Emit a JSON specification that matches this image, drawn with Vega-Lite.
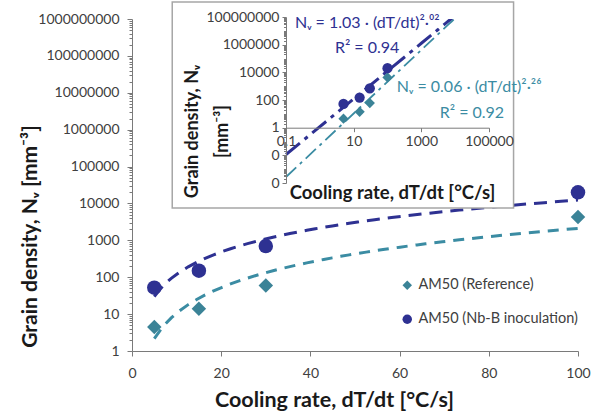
{
 "$schema": "https://vega.github.io/schema/vega-lite/v6.json",
 "width": 446,
 "height": 332,
 "autosize": "none",
 "padding": {"left": 132, "top": 19, "right": 23, "bottom": 65},
 "background": "white",
 "datasets": {
  "pts": [
   {"rate": 5, "density": 4.5, "series": "AM50 (Reference)"},
   {"rate": 15, "density": 14, "series": "AM50 (Reference)"},
   {"rate": 30, "density": 60, "series": "AM50 (Reference)"},
   {"rate": 100, "density": 4300, "series": "AM50 (Reference)"},
   {"rate": 5, "density": 52, "series": "AM50 (Nb-B inoculation)"},
   {"rate": 15, "density": 150, "series": "AM50 (Nb-B inoculation)"},
   {"rate": 30, "density": 700, "series": "AM50 (Nb-B inoculation)"},
   {"rate": 100, "density": 20000, "series": "AM50 (Nb-B inoculation)"}
  ],
  "frame": [{"rate": 4.34e-5, "rate2": 5.32e5, "density": 1.55e-6, "density2": 1.22e9}],
  "notes": [
   {"rate": 0.184, "density": 3.7e7, "series": "AM50 (Nb-B inoculation)", "label": "Nᵥ = 1.03 · (dT/dt)²·⁰²"},
   {"rate": 2.79, "density": 5.8e5, "series": "AM50 (Nb-B inoculation)", "label": "R² = 0.94"},
   {"rate": 188, "density": 870, "series": "AM50 (Reference)", "label": "Nᵥ = 0.06 · (dT/dt)²·²⁶"},
   {"rate": 3490, "density": 11.5, "series": "AM50 (Reference)", "label": "R² = 0.92"}
  ]
 },
 "config": {
  "view": {"stroke": null},
  "font": "Lato",
  "axis": {"grid": false, "labelFont": "Lato", "labelFontSize": 14, "labelColor": "#404040", "titleFont": "Lato", "titleFontWeight": "bold", "titleColor": "#1a1a1a", "domainColor": "#7a7a7a", "tickColor": "#7a7a7a", "labelFlush": false, "labelOverlap": false},
  "legend": {"orient": "none", "legendX": 268, "legendY": 259, "padding": 0, "symbolSize": 90, "labelFont": "Lato", "labelFontSize": 14.5, "labelLimit": 300, "labelColor": "#404040", "rowPadding": 19, "labelOffset": 4, "symbolStrokeWidth": 0}
 },
 "resolve": {"scale": {"x": "independent", "y": "independent"}, "axis": {"x": "independent", "y": "independent"}},
 "layer": [
  {
   "encoding": {
    "x": {"field": "rate", "type": "quantitative", "scale": {"domain": [0, 100], "nice": false, "zero": false},
     "axis": {"orient": "bottom", "values": [0, 20, 40, 60, 80, 100], "tickSize": 5, "labelPadding": 10, "title": "Cooling rate, dT/dt  [°C/s]", "titleFontSize": 21.5, "titleX": 202, "titleY": 49, "titleBaseline": "middle", "titleAlign": "center"}},
    "y": {"field": "density", "type": "quantitative", "scale": {"type": "log", "domain": [1, 1e9], "nice": false},
     "axis": {"orient": "left",
      "values": [1,2,3,4,5,6,7,8,9,10,20,30,40,50,60,70,80,90,100,200,300,400,500,600,700,800,900,1000,2000,3000,4000,5000,6000,7000,8000,9000,1e4,2e4,3e4,4e4,5e4,6e4,7e4,8e4,9e4,1e5,2e5,3e5,4e5,5e5,6e5,7e5,8e5,9e5,1e6,2e6,3e6,4e6,5e6,6e6,7e6,8e6,9e6,1e7,2e7,3e7,4e7,5e7,6e7,7e7,8e7,9e7,1e8,2e8,3e8,4e8,5e8,6e8,7e8,8e8,9e8,1e9],
      "labelExpr": "abs(log(datum.value)/LN10 - round(log(datum.value)/LN10)) < 0.001 ? format(datum.value, 'd') : ''",
      "tickSize": {"condition": {"test": "abs(log(datum.value)/LN10 - round(log(datum.value)/LN10)) < 0.001", "value": 5}, "value": 3},
      "labelPadding": 8,
      "title": "Grain density, Nᵥ  [mm⁻³]", "titleFontSize": 21, "titleX": -102, "titleY": 217, "titleBaseline": "middle", "titleAlign": "center", "titleAngle": 270}}
   },
   "layer": [
    {"data": {"name": "pts"}, "transform": [{"filter": "datum.series === 'AM50 (Reference)'"}, {"regression": "density", "on": "rate", "method": "pow", "extent": [5, 100]}],
     "mark": {"type": "line", "color": "#3B8CA3", "strokeWidth": 3, "strokeDash": [11, 8]}},
    {"data": {"name": "pts"}, "transform": [{"filter": "datum.series === 'AM50 (Nb-B inoculation)'"}, {"regression": "density", "on": "rate", "method": "pow", "extent": [5, 100]}],
     "mark": {"type": "line", "color": "#2E3192", "strokeWidth": 3, "strokeDash": [13, 8]}},
    {"data": {"name": "pts"}, "mark": {"type": "point", "filled": true, "opacity": 1, "size": 210},
     "encoding": {
      "color": {"field": "series", "type": "nominal", "title": null, "scale": {"domain": ["AM50 (Reference)", "AM50 (Nb-B inoculation)"], "range": ["#3B8397", "#2E3192"]}},
      "shape": {"field": "series", "type": "nominal", "title": null, "scale": {"domain": ["AM50 (Reference)", "AM50 (Nb-B inoculation)"], "range": ["diamond", "circle"]}}
     }}
   ]
  },
  {
   "encoding": {
    "x": {"field": "rate", "type": "quantitative", "scale": {"type": "log", "domain": [0.1, 100000], "range": [154, 357], "nice": false},
     "axis": {"orient": "bottom", "offset": -223.3, "zindex": 1, "values": [0.1, 10, 1000, 100000], "format": "~g", "tickSize": 4, "labelPadding": 3, "title": "Cooling rate, dT/dt  [°C/s]", "titleFontSize": 18.5, "titleX": 260, "titleY": 65, "titleBaseline": "middle", "titleAlign": "center"}},
    "y": {"field": "density", "type": "quantitative", "scale": {"type": "log", "domain": [0.0001, 100000000], "range": [164, -2], "nice": false},
     "axis": {"orient": "left", "offset": -154, "zindex": 1,
      "values": [1e-4,2e-4,3e-4,4e-4,5e-4,6e-4,7e-4,8e-4,9e-4,1e-3,2e-3,3e-3,4e-3,5e-3,6e-3,7e-3,8e-3,9e-3,1e-2,2e-2,3e-2,4e-2,5e-2,6e-2,7e-2,8e-2,9e-2,0.1,0.2,0.3,0.4,0.5,0.6,0.7,0.8,0.9,1,2,3,4,5,6,7,8,9,10,20,30,40,50,60,70,80,90,100,200,300,400,500,600,700,800,900,1000,2000,3000,4000,5000,6000,7000,8000,9000,1e4,2e4,3e4,4e4,5e4,6e4,7e4,8e4,9e4,1e5,2e5,3e5,4e5,5e5,6e5,7e5,8e5,9e5,1e6,2e6,3e6,4e6,5e6,6e6,7e6,8e6,9e6,1e7,2e7,3e7,4e7,5e7,6e7,7e7,8e7,9e7,1e8],
      "labelExpr": "abs(log(datum.value)/LN10/2 - round(log(datum.value)/LN10/2)) < 0.001 ? format(datum.value, 'd') : ''",
      "tickSize": {"condition": {"test": "abs(log(datum.value)/LN10/2 - round(log(datum.value)/LN10/2)) < 0.001", "value": 4}, "value": 2.5},
      "labelPadding": 3,
      "title": ["Grain density, Nᵥ", "[mm⁻³]"], "titleFontSize": 18, "titleLineHeight": 30, "titleX": -94, "titleY": 112, "titleBaseline": "middle", "titleAlign": "center", "titleAngle": 270}}
   },
   "layer": [
    {"data": {"name": "frame"}, "mark": {"type": "rect", "fill": "white", "stroke": "#a6a6a6", "strokeWidth": 1.5},
     "encoding": {"x2": {"field": "rate2"}, "y2": {"field": "density2"}}},
    {"data": {"name": "pts"}, "transform": [{"filter": "datum.series === 'AM50 (Reference)'"}, {"regression": "density", "on": "rate", "method": "pow", "extent": [0.1, 100000]}],
     "mark": {"type": "line", "clip": true, "color": "#3B8CA3", "strokeWidth": 1.8, "strokeDash": [14, 5, 3, 5]}},
    {"data": {"name": "pts"}, "transform": [{"filter": "datum.series === 'AM50 (Nb-B inoculation)'"}, {"regression": "density", "on": "rate", "method": "pow", "extent": [0.1, 100000]}],
     "mark": {"type": "line", "clip": true, "color": "#2E3192", "strokeWidth": 3, "strokeDash": [18, 6, 4, 6]}},
    {"data": {"name": "pts"}, "mark": {"type": "point", "filled": true, "opacity": 1, "size": 105},
     "encoding": {
      "color": {"field": "series", "type": "nominal", "title": null, "scale": {"domain": ["AM50 (Reference)", "AM50 (Nb-B inoculation)"], "range": ["#3B8397", "#2E3192"]}},
      "shape": {"field": "series", "type": "nominal", "title": null, "scale": {"domain": ["AM50 (Reference)", "AM50 (Nb-B inoculation)"], "range": ["diamond", "circle"]}}
     }},
    {"data": {"name": "notes"}, "transform": [{"filter": "datum.series === 'AM50 (Nb-B inoculation)'"}],
     "mark": {"type": "text", "align": "left", "baseline": "middle", "fontSize": 16, "color": "#2E3192", "font": "Lato"},
     "encoding": {"text": {"field": "label"}}},
    {"data": {"name": "notes"}, "transform": [{"filter": "datum.series === 'AM50 (Reference)'"}],
     "mark": {"type": "text", "align": "left", "baseline": "middle", "fontSize": 16, "color": "#3B8CA3", "font": "Lato"},
     "encoding": {"text": {"field": "label"}}}
   ]
  }
 ]
}
